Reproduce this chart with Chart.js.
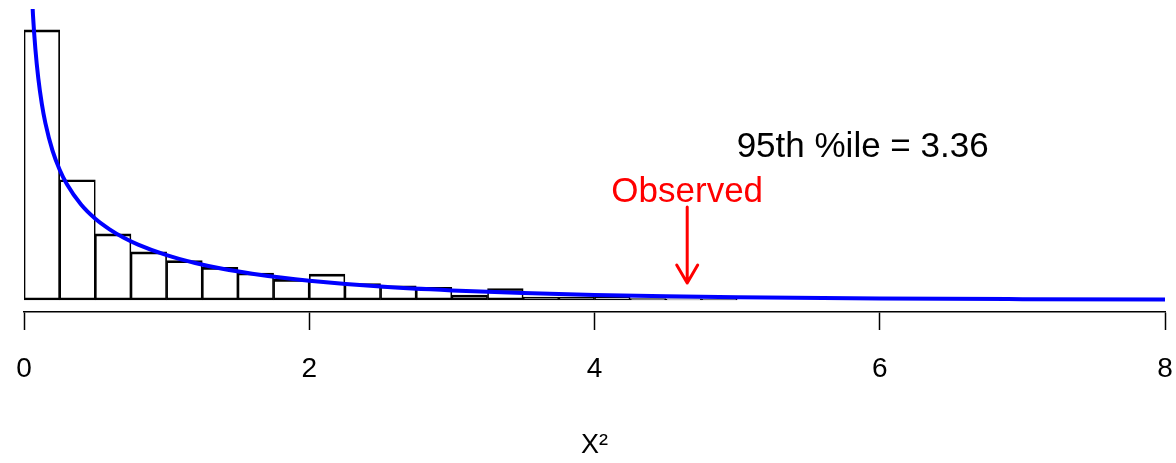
<!DOCTYPE html>
<html>
<head>
<meta charset="utf-8">
<script src="https://cdn.jsdelivr.net/npm/chart.js@4"></script>
<style>
  html, body { margin: 0; padding: 0; background: #ffffff; }
  #wrap { width: 1176px; height: 463px; }
</style>
</head>
<body>
<div id="wrap"><canvas id="c" width="1176" height="463"></canvas></div>
<script>
// Histogram bins (centres, width 0.25) and heights (density)
const binCenters = [0.125, 0.375, 0.625, 0.875, 1.125, 1.375, 1.625, 1.875,
                    2.125, 2.375, 2.625, 2.875, 3.125, 3.375, 3.625, 3.875,
                    4.125, 4.375, 4.625, 4.875];
const histDensity = [1.46, 0.65, 0.357, 0.26, 0.213, 0.176, 0.146, 0.111,
                     0.14, 0.089, 0.076, 0.068, 0.027, 0.062, 0.016, 0.016,
                     0.014, 0.008, 0.006, 0.005];

// Blue reference curve
const curveX = [0.05, 0.063, 0.08, 0.1, 0.125, 0.15, 0.2, 0.25, 0.3, 0.4, 0.5,
                0.6, 0.7, 0.8, 1.0, 1.2, 1.4, 1.6, 1.8, 2.0, 2.5, 3.0, 3.5,
                4.0, 4.5, 5.0, 6.0, 7.0, 8.0];
const curveY = [1.74, 1.54, 1.355, 1.2, 1.06, 0.956, 0.807, 0.704, 0.627, 0.516, 0.439,
                0.382, 0.336, 0.299, 0.242, 0.2, 0.167, 0.142, 0.121, 0.104, 0.0723, 0.0514, 0.0371,
                0.027, 0.0198, 0.0146, 0.0081, 0.0046, 0.0026];

// Axis ticks
const xTicks = [0, 2, 4, 6, 8];

// Annotations
const percentileLabel = "95th %ile = 3.36";
const percentileLabelPos = [5.88, 0.773];   // centre x, baseline y (data units)
const observedLabel = "Observed";
const observedX = 4.65;
const observedLabelY = 0.53;
const arrowFromY = 0.503;
const arrowToY = 0.092;

const FONT = "'Liberation Sans', Arial, Helvetica, sans-serif";

const annotate = {
  id: 'annotate',
  afterDatasetsDraw(chart) {
    const ctx = chart.ctx;
    const xs = chart.scales.x, ys = chart.scales.y;
    ctx.save();
    ctx.textBaseline = 'alphabetic';
    ctx.textAlign = 'center';
    ctx.fillStyle = '#000000';
    ctx.font = '35px ' + FONT;
    ctx.fillText(percentileLabel, xs.getPixelForValue(percentileLabelPos[0]), ys.getPixelForValue(percentileLabelPos[1]));
    ctx.fillStyle = '#ff0000';
    ctx.fillText(observedLabel, xs.getPixelForValue(observedX), ys.getPixelForValue(observedLabelY));
    // arrow
    const ax = xs.getPixelForValue(observedX);
    const y1 = ys.getPixelForValue(arrowFromY), y2 = ys.getPixelForValue(arrowToY);
    ctx.strokeStyle = '#ff0000';
    ctx.lineWidth = 3;
    ctx.lineCap = 'round';
    ctx.lineJoin = 'round';
    ctx.beginPath();
    ctx.moveTo(ax, y1); ctx.lineTo(ax, y2);
    ctx.moveTo(ax - 10.5, y2 - 18); ctx.lineTo(ax, y2); ctx.lineTo(ax + 10.5, y2 - 18);
    ctx.stroke();
    ctx.restore();
  }
};

new Chart(document.getElementById('c'), {
  type: 'bar',
  data: {
    datasets: [
      {
        type: 'line',
        order: 0,
        data: curveX.map((x, i) => ({ x: x, y: curveY[i] })),
        borderColor: '#0000ff',
        borderWidth: 4,
        pointRadius: 0,
        fill: false,
        cubicInterpolationMode: 'monotone'
      },
      {
        type: 'bar',
        order: 1,
        data: binCenters.map((x, i) => ({ x: x, y: histDensity[i] })),
        backgroundColor: 'rgba(255,255,255,0)',
        borderColor: '#000000',
        borderWidth: { top: 2, bottom: 2, left: 1, right: 1 },
        borderSkipped: false,
        barPercentage: 1.0,
        categoryPercentage: 1.0
      }
    ]
  },
  options: {
    responsive: false,
    animation: false,
    events: [],
    layout: { padding: { top: 9, left: 24, right: 11, bottom: 0 } },
    plugins: { legend: { display: false }, tooltip: { enabled: false } },
    scales: {
      x: {
        type: 'linear',
        min: 0, max: 8,
        offset: false,
        afterBuildTicks: (axis) => { axis.ticks = xTicks.map(v => ({ value: v })); },
        grid: { offset: false, drawOnChartArea: false, drawTicks: true, tickLength: 18, tickWidth: 1.5, tickColor: '#000000' },
        border: { display: true, color: '#000000', width: 1.5 },
        ticks: { color: '#000000', font: { family: FONT, size: 28, lineHeight: 2.7 }, padding: 1, maxRotation: 0, autoSkip: false },
        title: { display: true, text: 'X²', color: '#000000', font: { family: FONT, size: 27 }, padding: { top: 22, bottom: 1 } }
      },
      y: {
        display: false,
        min: -0.065, max: 1.573
      }
    }
  },
  plugins: [annotate]
});
</script>
</body>
</html>
